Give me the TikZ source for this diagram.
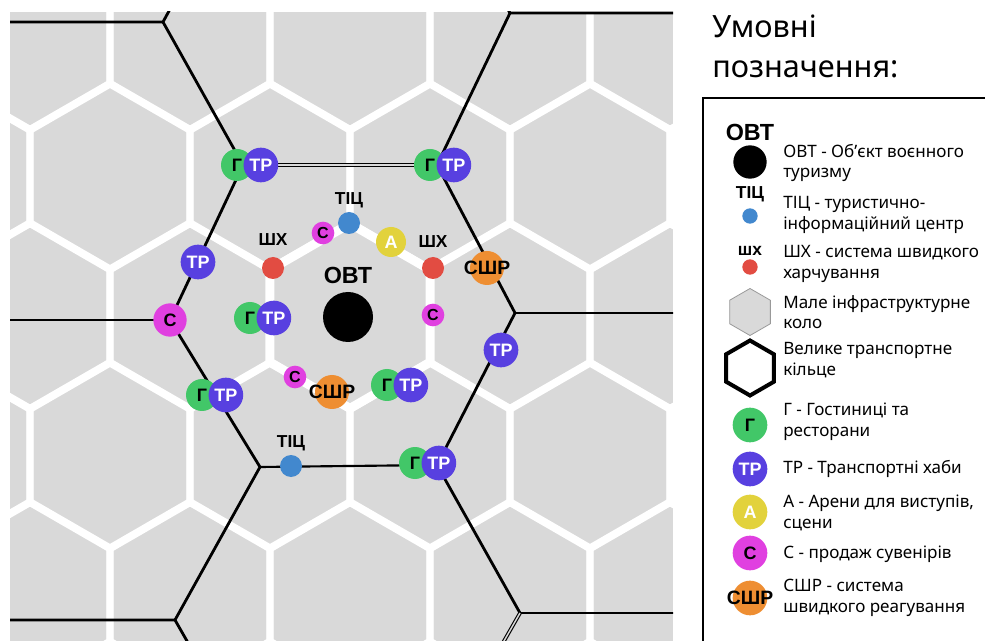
\documentclass[tikz,border=0pt]{standalone}
\usepackage{fontspec}
\setmainfont{Noto Sans}
\newfontfamily\markfont{Liberation Sans}
\usetikzlibrary{positioning}
\definecolor{cellgray}{RGB}{217,217,217}
\definecolor{hotelgreen}{RGB}{66,199,104}
\definecolor{hubviolet}{RGB}{88,64,224}
\definecolor{infoblue}{RGB}{66,136,206}
\definecolor{foodred}{RGB}{226,76,66}
\definecolor{arenayellow}{RGB}{226,210,60}
\definecolor{giftpink}{RGB}{224,64,224}
\definecolor{rescueorange}{RGB}{238,142,50}

\begin{document}
\begin{tikzpicture}[x=0.75pt, y=-0.75pt,
    cellgap/.style={white, line width=5.25pt, line join=miter},
    spot/.style={circle, inner sep=0pt, font=\markfont\bfseries\fontsize{13.5}{13.5}\selectfont},
    hotel/.style={spot, fill=hotelgreen, minimum size=24pt},
    hub/.style={spot, fill=hubviolet, text=white, minimum size=26pt},
    gift/.style={spot, fill=giftpink, minimum size=17pt, font=\markfont\bfseries\fontsize{12}{12}\selectfont},
    arena/.style={spot, fill=arenayellow, text=white, minimum size=22.5pt},
    rescue/.style={spot, fill=rescueorange, minimum size=25.5pt},
    info/.style={circle, fill=infoblue, minimum size=16.5pt, inner sep=0pt},
    food/.style={circle, fill=foodred, minimum size=16.5pt, inner sep=0pt},
    tag/.style={inner sep=0pt, font=\markfont\bfseries\fontsize{13}{13}\selectfont},
    alerttag/.style={tag, font=\markfont\bfseries\fontsize{14.5}{14.5}\selectfont},
    road/.style={line width=2.1pt, line join=round},
    twin/.style={line width=0.85pt, double=cellgray, double distance=1.1pt},
    legtext/.style={anchor=west, align=left, inner sep=0pt, font=\fontsize{12.8}{15.5}\selectfont},
]
\useasboundingbox (0,0) rectangle (985,641);

% hex cells and roads
\begin{scope}
  \clip (10,12) rectangle (673,641);
  \fill[cellgray] (10,12) rectangle (673,641);
  \foreach \row in {-2,...,2} {
    \foreach \col in {-3,...,3} {
      \pgfmathsetmacro\cx{350+160*\col-80*mod(abs(\row),2)}
      \pgfmathsetmacro\cy{316+139.5*\row}
      \draw[cellgap, shift={(\cx,\cy)}]
        (30:92.4) -- (90:92.4) -- (150:92.4) -- (210:92.4) -- (270:92.4) -- (330:92.4) -- cycle;
    }
  }
  \draw[cellgap, line width=6.75pt, shift={(350,316)}]
    (30:92.4) -- (90:92.4) -- (150:92.4) -- (210:92.4) -- (270:92.4) -- (330:92.4) -- cycle;

  \coordinate (ringNW) at (243,165);
  \coordinate (ringNE) at (437,165);
  \coordinate (ringE) at (515,313);
  \coordinate (ringSE) at (437,465);
  \coordinate (ringSW) at (260,467);
  \coordinate (ringW) at (170,320);
  \coordinate (farNW) at (163,22);
  \coordinate (farNE) at (510,13);
  \coordinate (farSE) at (520,613);
  \coordinate (farSW) at (175,620);
  \coordinate (endW1) at (0,22);
  \coordinate (endN1) at (175,0);
  \coordinate (endN2) at (500,-4);
  \coordinate (endE1) at (690,13);
  \coordinate (endW2) at (0,320);
  \coordinate (endE2) at (690,313);
  \coordinate (endE3) at (690,613);
  \coordinate (endS1) at (500,648);
  \coordinate (endW3) at (0,620);
  \coordinate (endS2) at (191,648);

  \draw[road] (farNW) -- (ringNW) -- (ringW) -- (ringSW) -- (farSW);
  \draw[road] (farNE) -- (ringNE) -- (ringE) -- (ringSE) -- (farSE);
  \draw[twin] (ringNW) -- (ringNE);
  \draw[road, line width=1.6pt] (ringSW) -- (ringSE);
  \draw[road] (endW1) -- (farNW) -- (endN1);
  \draw[road] (endN2) -- (farNE) -- (endE1);
  \draw[road] (ringW) -- (endW2);
  \draw[road] (ringE) -- (endE2);
  \draw[road] (farSE) -- (endE3);
  \draw[twin] (farSE) -- (endS1);
  \draw[road] (endW3) -- (farSW) -- (endS2);
\end{scope}

% objects on the plan
\node[circle, fill=black, minimum size=37.5pt, inner sep=0pt] (obt) at (348,317) {};
\node[tag, font=\markfont\bfseries\fontsize{17.5}{17.5}\selectfont, above=6pt of obt] (obtT) {ОВТ};

\node[info] (tic1) at (349,223) {};
\node[tag, above=3pt of tic1] (tic1T) {ТІЦ};
\node[info] (tic2) at (291,466) {};
\node[tag, above=3pt of tic2] (tic2T) {ТІЦ};
\node[food] (fast1) at (273,268) {};
\node[tag, above=8.5pt of fast1] (fast1T) {ШХ};
\node[food] (fast2) at (433,268) {};
\node[tag, above=6.5pt of fast2] (fast2T) {ШХ};

\node[gift] (gift1) at (323,233) {С};
\node[gift] (gift2) at (433,315) {С};
\node[gift] (gift3) at (295,377) {С};
\node[gift, minimum size=25pt, font=\markfont\bfseries\fontsize{13.5}{13.5}\selectfont] (gift4) at (170,320) {С};
\node[arena] (arena1) at (391,242) {А};
\node[rescue] (resc1) at (487,268) {};
\node[alerttag] (resc1T) at (resc1) {СШР};
\node[rescue] (resc2) at (332,392) {};
\node[alerttag] (resc2T) at (resc2) {СШР};

\node[hotel] (hot1) at (237,165) {Г};
\node[hub, right=-7.5pt of hot1] (hub1) {ТР};
\node[hotel] (hot2) at (430,165) {Г};
\node[hub, right=-7.5pt of hot2] (hub2) {ТР};
\node[hotel] (hot3) at (250,318) {Г};
\node[hub, right=-7.5pt of hot3] (hub3) {ТР};
\node[hotel] (hot4) at (202,395) {Г};
\node[hub, right=-7.5pt of hot4] (hub4) {ТР};
\node[hotel] (hot5) at (387,385) {Г};
\node[hub, right=-7.5pt of hot5] (hub5) {ТР};
\node[hotel] (hot6) at (415,463) {Г};
\node[hub, right=-7.5pt of hot6] (hub6) {ТР};
\node[hub] (hub7) at (198,262) {ТР};
\node[hub] (hub8) at (501,350) {ТР};

% legend
\node[anchor=base west, inner sep=0pt, font=\fontsize{23}{23}\selectfont] (title1) at (712,38) {Умовні};
\node[anchor=base west, inner sep=0pt, font=\fontsize{23}{23}\selectfont] (title2) at (712,78) {позначення:};
\draw[line width=1.5pt] (703,98) rectangle (1010,660);

\node[tag, font=\markfont\bfseries\fontsize{17.5}{17.5}\selectfont] (keyObtT) at (750,132) {ОВТ};
\node[circle, fill=black, minimum size=25pt, inner sep=0pt] (keyObt) at (750,162) {};
\node[legtext] (txtObt) at (783,163) {ОВТ - Об’єкт воєнного\\туризму};

\node[tag] (keyTicT) at (750,194) {ТІЦ};
\node[info, minimum size=11.5pt] (keyTic) at (750,216) {};
\node[legtext] (txtTic) at (783,215) {ТІЦ - туристично-\\інформаційний центр};

\node[tag] (keyFastT) at (750,251) {шх};
\node[food, minimum size=11.5pt] (keyFast) at (750,267) {};
\node[legtext] (txtFast) at (783,264) {ШХ - система швидкого\\харчування};

\fill[cellgray, draw=gray!80, line width=0.6pt, shift={(750,312)}]
  (30:23.5) -- (90:23.5) -- (150:23.5) -- (210:23.5) -- (270:23.5) -- (330:23.5) -- cycle;
\node[legtext] (txtSmall) at (783,312) {Мале інфраструктурне\\коло};

\draw[line width=3pt, line join=miter, shift={(750,368)}]
  (30:27.5) -- (90:27.5) -- (150:27.5) -- (210:27.5) -- (270:27.5) -- (330:27.5) -- cycle;
\node[legtext] (txtBig) at (783,360) {Велике транспортне\\кільце};

\node[hotel, minimum size=26pt] (keyHot) at (750,425) {Г};
\node[legtext] (txtHot) at (783,422) {Г - Гостиниці та\\ресторани};
\node[hub] (keyHub) at (750,469) {ТР};
\node[legtext] (txtHub) at (783,469) {ТР - Транспортні хаби};
\node[arena, minimum size=26pt] (keyArena) at (750,512) {А};
\node[legtext] (txtArena) at (783,513) {А - Арени для виступів,\\сцени};
\node[gift, minimum size=26pt, font=\markfont\bfseries\fontsize{13.5}{13.5}\selectfont] (keyGift) at (750,553) {С};
\node[legtext] (txtGift) at (783,554) {С - продаж сувенірів};
\node[rescue, minimum size=26pt] (keyResc) at (750,598) {};
\node[alerttag] (keyRescT) at (keyResc) {СШР};
\node[legtext] (txtResc) at (783,598) {СШР - система\\швидкого реагування};
\end{tikzpicture}
\end{document}
